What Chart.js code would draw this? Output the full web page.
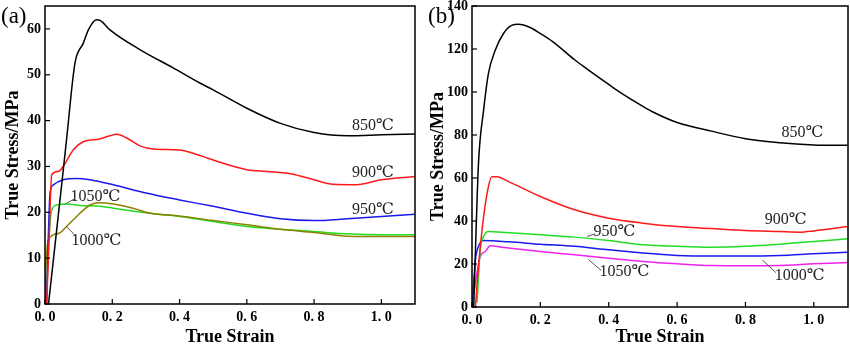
<!DOCTYPE html>
<html>
<head>
<meta charset="utf-8">
<script src="https://cdn.jsdelivr.net/npm/chart.js@4"></script>
<style>
  body { margin: 0; background: #fff; }
  .panel { position: absolute; top: 0; width: 425px; height: 348px; }
</style>
</head>
<body>
<div class="panel" style="left:0"><canvas id="graficoA"></canvas></div>
<div class="panel" style="left:425px"><canvas id="graficoB"></canvas></div>
<script>
// (a) curvas, [deformacion, tension]
const a850 = [[0.0104,0],[0.05,26.3],[0.064,35.8],[0.089,52.5],[0.114,56.9],[0.129,59.8],[0.153,62],[0.165,61.8],[0.193,59.8],[0.282,55.5],[0.381,51.5],[0.46,48.2],[0.5,46.7],[0.6,42.7],[0.7,39.4],[0.8,37.4],[0.9,36.7],[1.0,36.9],[1.1,37.1]];
const a900 = [[0.005,0],[0.012,14],[0.02,28.2],[0.04,28.9],[0.054,30],[0.084,33.6],[0.114,35.4],[0.163,36],[0.193,36.7],[0.213,37],[0.243,36.2],[0.282,34.5],[0.322,33.8],[0.4,33.6],[0.44,32.9],[0.5,31.4],[0.6,29.3],[0.66,28.9],[0.73,28.4],[0.8,27.1],[0.856,26.1],[0.926,26],[1.0,27.1],[1.1,27.8]];
const a950 = [[0.005,0],[0.01,15],[0.015,24.2],[0.025,26],[0.054,27.1],[0.094,27.4],[0.134,27.1],[0.203,26],[0.3,24.2],[0.4,22.7],[0.5,21.3],[0.6,19.8],[0.7,18.6],[0.8,18.2],[0.9,18.6],[1.0,19.1],[1.1,19.6]];
const a1000 = [[0.0,0],[0.003,8],[0.01,14.1],[0.04,15.4],[0.064,16.9],[0.104,19.8],[0.134,21.6],[0.163,22.1],[0.203,21.8],[0.262,20.9],[0.312,19.8],[0.4,19.2],[0.5,18.2],[0.6,17.3],[0.7,16.3],[0.8,15.6],[0.9,14.8],[1.0,14.7],[1.1,14.7]];
const a1050 = [[0.003,0],[0.01,12],[0.02,20.5],[0.035,21.6],[0.064,21.8],[0.104,21.5],[0.163,21.3],[0.203,20.9],[0.3,19.9],[0.4,19.1],[0.5,18],[0.6,16.9],[0.7,16.3],[0.8,15.8],[0.9,15.3],[1.0,15.1],[1.1,15.1]];

// (b) curvas
const b850 = [[0.005,0],[0.019,66.8],[0.034,91.6],[0.048,108.6],[0.068,119.4],[0.092,127.2],[0.116,131],[0.136,131.5],[0.17,130],[0.2,127.2],[0.237,123.3],[0.3,115],[0.334,111],[0.4,103.5],[0.431,100.1],[0.5,93.3],[0.528,90.8],[0.6,85.8],[0.7,81.8],[0.8,78.3],[0.9,76.4],[1.0,75.4],[1.1,75.2]];
const b900 = [[0.01,0],[0.019,18.9],[0.034,42],[0.048,56],[0.058,60.6],[0.073,60.6],[0.107,58.3],[0.2,51.4],[0.3,45.2],[0.4,41.3],[0.5,39],[0.6,37.4],[0.7,36.5],[0.8,35.6],[0.9,35.1],[0.96,34.8],[1.0,35.4],[1.1,37.4]];
const b950 = [[0.015,2],[0.024,26.6],[0.034,32.8],[0.048,35.1],[0.087,34.8],[0.2,33.6],[0.3,32.5],[0.4,30.9],[0.5,28.9],[0.6,28.2],[0.7,27.8],[0.8,28.2],[0.9,29.2],[1.0,30.5],[1.1,31.7]];
const b1000 = [[0.0,0],[0.01,22],[0.019,28.2],[0.034,30.9],[0.107,30.3],[0.2,29.2],[0.3,28.2],[0.4,26.6],[0.5,25.1],[0.6,24],[0.7,23.7],[0.8,23.7],[0.9,24],[1.0,24.8],[1.1,25.5]];
const b1050 = [[0.005,6],[0.024,23.5],[0.039,25.8],[0.053,28.5],[0.087,27.8],[0.2,25.8],[0.3,24.3],[0.4,22.7],[0.5,21.2],[0.6,20.1],[0.7,19.3],[0.8,19.2],[0.9,19.3],[1.0,20.1],[1.1,20.7]];

const xTicks = [0, 0.2, 0.4, 0.6, 0.8, 1.0];
const yTicksA = [0, 10, 20, 30, 40, 50, 60];
const yTicksB = [0, 20, 40, 60, 80, 100, 120, 140];

// etiquetas: texto, x, y, linea guia (x1,y1,x2,y2) o null
const etiquetasA = [
  ['850\u2103', 0.975, 38.9, null],
  ['900\u2103', 0.975, 28.6, null],
  ['950\u2103', 0.975, 20.5, null],
  ['1050\u2103', 0.15, 23.3, [0.06, 21.8, 0.087, 22.9]],
  ['1000\u2103', 0.153, 13.8, [0.064, 16.9, 0.089, 15.0]]
];
const etiquetasB = [
  ['850\u2103', 0.967, 80.8, null],
  ['900\u2103', 0.918, 40.5, null],
  ['950\u2103', 0.417, 34.8, [0.337, 32.8, 0.36, 34.0]],
  ['1050\u2103', 0.446, 16.5, [0.341, 22.0, 0.378, 17.0]],
  ['1000\u2103', 0.959, 14.5, [0.85, 21.8, 0.889, 16.0]]
];

const serif = '"Liberation Serif", "DejaVu Serif", serif';

function puntos(arr) {
  return arr.map(p => ({ x: p[0], y: p[1] }));
}

function serie(arr, color) {
  return {
    data: puntos(arr),
    borderColor: color,
    borderWidth: 1.5,
    pointRadius: 0,
    fill: false,
    cubicInterpolationMode: 'monotone'
  };
}

const marco = {
  id: 'marco',
  afterDraw(chart) {
    const ctx = chart.ctx;
    const a = chart.chartArea;
    const opts = chart.options.plugins.marco;
    ctx.save();
    ctx.strokeStyle = '#000';
    ctx.lineWidth = 1.5;
    ctx.strokeRect(a.left, a.top, a.right - a.left, a.bottom - a.top);
    ctx.lineWidth = 1.2;
    chart.scales.x.ticks.forEach(t => {
      const px = chart.scales.x.getPixelForValue(t.value);
      ctx.beginPath(); ctx.moveTo(px, a.bottom); ctx.lineTo(px, a.bottom - 5); ctx.stroke();
    });
    chart.scales.y.ticks.forEach(t => {
      const py = chart.scales.y.getPixelForValue(t.value);
      ctx.beginPath(); ctx.moveTo(a.left, py); ctx.lineTo(a.left + 5, py); ctx.stroke();
    });
    // etiquetas de temperatura
    ctx.font = '16px ' + serif;
    ctx.fillStyle = '#222';
    ctx.textAlign = 'center';
    ctx.textBaseline = 'middle';
    opts.etiquetas.forEach(e => {
      const px = chart.scales.x.getPixelForValue(e[1]);
      const py = chart.scales.y.getPixelForValue(e[2]);
      ctx.fillText(e[0], px, py);
      if (e[3]) {
        ctx.strokeStyle = '#555';
        ctx.lineWidth = 1;
        ctx.beginPath();
        ctx.moveTo(chart.scales.x.getPixelForValue(e[3][0]), chart.scales.y.getPixelForValue(e[3][1]));
        ctx.lineTo(chart.scales.x.getPixelForValue(e[3][2]), chart.scales.y.getPixelForValue(e[3][3]));
        ctx.stroke();
      }
    });
    // letra del panel
    ctx.font = '23px ' + serif;
    ctx.fillStyle = '#000';
    ctx.textAlign = 'left';
    ctx.textBaseline = 'top';
    ctx.fillText(opts.letra, opts.letraX, 5);
    ctx.restore();
  }
};

function crearGrafico(id, series, yMax, yTicks, yWidth, xHeight, padRight, etiquetas, letra, letraX) {
  const ctx = document.getElementById(id).getContext('2d');
  return new Chart(ctx, {
    type: 'line',
    data: { datasets: series },
    options: {
      responsive: true,
      maintainAspectRatio: false,
      animation: false,
      layout: { padding: { top: 6, right: padRight, left: 0, bottom: 0 } },
      plugins: {
        legend: { display: false },
        tooltip: { enabled: false },
        marco: { etiquetas: etiquetas, letra: letra, letraX: letraX }
      },
      scales: {
        x: {
          type: 'linear',
          min: 0,
          max: 1.1,
          grid: { display: false, drawTicks: false },
          border: { display: false },
          afterBuildTicks: s => { s.ticks = xTicks.map(v => ({ value: v })); },
          afterFit: s => { s.height = xHeight; s.paddingLeft = 0; s.paddingRight = 0; },
          ticks: {
            color: '#000',
            padding: 5,
            maxRotation: 0,
            font: { family: serif, size: 14, weight: 'bold' },
            callback: v => v.toFixed(1).replace('.', '. ')
          },
          title: {
            display: true,
            text: 'True Strain',
            color: '#000',
            padding: { top: 2, bottom: 0 },
            font: { family: serif, size: 18, weight: 'bold' }
          }
        },
        y: {
          type: 'linear',
          min: 0,
          max: yMax,
          grid: { display: false, drawTicks: false },
          border: { display: false },
          afterBuildTicks: s => { s.ticks = yTicks.map(v => ({ value: v })); },
          afterFit: s => { s.width = yWidth; s.paddingTop = 0; s.paddingBottom = 0; },
          ticks: {
            color: '#000',
            padding: 4,
            font: { family: serif, size: 14, weight: 'bold' }
          },
          title: {
            display: true,
            text: 'True Stress/MPa',
            color: '#000',
            padding: { top: 3, bottom: 0 },
            font: { family: serif, size: 18, weight: 'bold' }
          }
        }
      }
    },
    plugins: [marco]
  });
}

crearGrafico('graficoA', [
  serie(a850, '#000000'),
  serie(a900, '#ff1a1a'),
  serie(a950, '#1a1aee'),
  serie(a1000, '#8c8000'),
  serie(a1050, '#22dd22')
], 65, yTicksA, 45, 44, 10, etiquetasA, '(a)', 1);

crearGrafico('graficoB', [
  serie(b850, '#000000'),
  serie(b900, '#ff1a1a'),
  serie(b950, '#22dd22'),
  serie(b1000, '#1a1aee'),
  serie(b1050, '#ee22ee')
], 140, yTicksB, 47, 41, 2, etiquetasB, '(b)', 3);
</script>
</body>
</html>
